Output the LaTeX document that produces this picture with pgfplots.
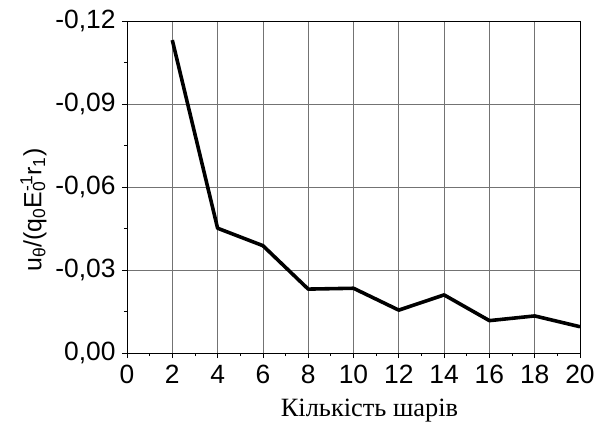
\documentclass[border=0pt]{standalone}
\usepackage{fontspec}
\setmainfont{Liberation Sans}
\newfontfamily\seriffont{Liberation Serif}
\usepackage{pgfplots}
\pgfplotsset{compat=1.18}
\begin{document}
\begin{tikzpicture}
\begin{axis}[
  name=ax,
  scale only axis,
  width=453bp, height=332bp,
  xmin=0, xmax=20, ymin=-0.12, ymax=0,
  y dir=reverse,
  xtick={0,2,...,20},
  ytick={-0.12,-0.09,-0.06,-0.03,0},
  minor x tick num=1,
  minor y tick num=1,
  xtick pos=left, ytick pos=left,
  tick align=outside,
  major tick length=5bp,
  minor tick length=3bp,
  tick style={black, line width=0.8pt},
  axis line style={black, line width=0.9pt},
  grid=major,
  major grid style={black!55, line width=0.8pt},
  ticklabel style={font=\fontsize{26.5}{26.5}\selectfont},
  /pgf/number format/assume math mode=true,
  yticklabel style={xshift=-3bp, /pgf/number format/.cd, use comma, fixed, fixed zerofill, precision=2},
  xticklabel style={yshift=-4bp},
  xlabel={\seriffont\fontsize{26.5}{26.5}\selectfont Кількість шарів},
  xlabel style={yshift=-8bp, xshift=16bp},
  ylabel={\fontsize{25}{25}\selectfont u\textsubscript{θ}/(q\textsubscript{0}E\rlap{\textsubscript{0}}\textsuperscript{-1}r\textsubscript{1})},
  ylabel style={xshift=-23bp, yshift=2bp},
]
\addplot[black, line width=3.6pt, line join=round] coordinates {
  (2,-0.1131) (4,-0.0451) (6,-0.0388) (8,-0.0231) (10,-0.0234)
  (12,-0.0155) (14,-0.0210) (16,-0.0117) (18,-0.0134) (20,-0.0095)
};
\end{axis}
\pgfresetboundingbox
\path[use as bounding box] ([shift={(-127bp,-70bp)}]ax.south west) rectangle ([shift={(23bp,21bp)}]ax.north east);
\end{tikzpicture}
\end{document}
